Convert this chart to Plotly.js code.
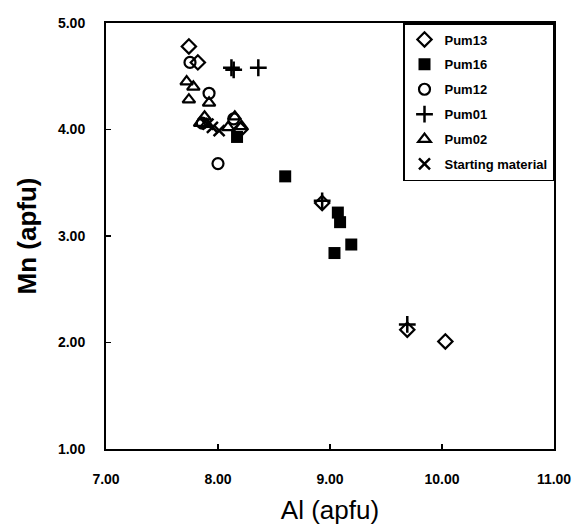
<!DOCTYPE html>
<html>
<head>
<meta charset="utf-8">
<script src="https://cdn.plot.ly/plotly-3.0.1.min.js"></script>
<style>html,body{margin:0;padding:0;background:#fff;}#chart{width:572px;height:527px;}</style>
</head>
<body>
<div id="chart"></div>
<script>
// Data
const pum13_al = [7.74, 7.82, 8.20, 8.93, 9.69, 10.03];
const pum13_mn = [4.78, 4.63, 4.00, 3.31, 2.12, 2.01];

const pum16_al = [8.17, 8.60, 9.07, 9.09, 9.04, 9.19];
const pum16_mn = [3.93, 3.56, 3.22, 3.13, 2.84, 2.92];

const pum12_al = [7.75, 7.92, 8.00, 8.14, 7.86];
const pum12_mn = [4.63, 4.34, 3.68, 4.10, 4.06];

const pum01_al = [8.12, 8.14, 8.36, 8.93, 9.69];
const pum01_mn = [4.58, 4.56, 4.58, 3.33, 2.17];

const pum02_al = [7.72, 7.78, 7.74, 7.92, 7.84, 7.88, 8.09, 8.15, 8.21, 7.90];
const pum02_mn = [4.45, 4.40, 4.28, 4.25, 4.06, 4.12, 4.02, 4.12, 4.03, 4.05];

const start_al = [7.95, 8.01, 7.91];
const start_mn = [4.02, 3.99, 4.05];

const seriesNames = ["Pum13", "Pum16", "Pum12", "Pum01", "Pum02", "Starting material"];
const xTicks = [7, 8, 9, 10, 11];
const xTickText = ["7.00", "8.00", "9.00", "10.00", "11.00"];
const yTicks = [1, 2, 3, 4, 5];
const yTickText = ["1.00", "2.00", "3.00", "4.00", "5.00"];

function tr(name, x, y, symbol, size, lw) {
  return {
    type: "scatter", mode: "markers", name: name, x: x, y: y,
    legendgroup: name,
    marker: {symbol: symbol, size: size, color: "#000", line: {color: "#000", width: lw}},
    cliponaxis: false
  };
}

const data = [
  tr(seriesNames[0], pum13_al, pum13_mn, "diamond-open", 11, 2.2),
  tr(seriesNames[1], pum16_al, pum16_mn, "square", 12, 0),
  tr(seriesNames[2], pum12_al, pum12_mn, "circle-open", 11, 2.2),
  tr(seriesNames[3], pum01_al, pum01_mn, "cross-thin", 12, 2.5),
  tr(seriesNames[4], pum02_al, pum02_mn, "triangle-up-open", 11, 2.2),
  tr(seriesNames[5], start_al, start_mn, "x-thin", 11, 2.5)
];

const fam = "Liberation Sans, Arial, sans-serif";
const tickFont = {family: fam, size: 14, color: "#000", weight: "bold"};

const layout = {
  width: 572, height: 527,
  margin: {l: 106, r: 18, t: 23, b: 78},
  paper_bgcolor: "#fff", plot_bgcolor: "#fff",
  showlegend: true,
  xaxis: {
    range: [7, 11], tickvals: xTicks, ticktext: xTickText,
    ticks: "inside", ticklen: 5, tickwidth: 1.5, tickcolor: "#000",
    showline: true, linecolor: "#000", linewidth: 2, mirror: true,
    showgrid: false, zeroline: false, automargin: false,
    tickfont: tickFont, ticklabelstandoff: 16,
    title: {text: "Al (apfu)", font: {family: fam, size: 26, color: "#000"}, standoff: 15}
  },
  yaxis: {
    range: [1, 5], tickvals: yTicks, ticktext: yTickText,
    ticks: "inside", ticklen: 5, tickwidth: 1.5, tickcolor: "#000",
    showline: true, linecolor: "#000", linewidth: 2, mirror: true,
    showgrid: false, zeroline: false, automargin: false,
    tickfont: tickFont, ticklabelstandoff: 16,
    title: {text: "Mn (apfu)", font: {family: fam, size: 26, color: "#000", weight: "bold"}, standoff: 14}
  },
  legend: {
    x: 1, y: 1, xanchor: "right", yanchor: "top",
    bgcolor: "#fff", bordercolor: "#000", borderwidth: 1.5,
    font: {family: fam, size: 13, color: "#000", weight: "bold"},
    traceorder: "grouped", tracegroupgap: 5, itemwidth: 30
  }
};

Plotly.newPlot("chart", data, layout, {displayModeBar: false, staticPlot: true});
</script>
</body>
</html>
